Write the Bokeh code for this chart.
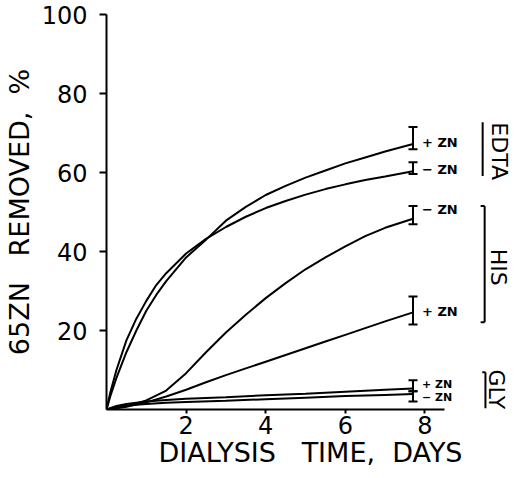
import math
from bokeh.plotting import figure
from bokeh.models import Range1d, FixedTicker, Whisker, TeeHead, ColumnDataSource
from bokeh.core.properties import value
from bokeh.embed import file_html
from bokeh.resources import INLINE

# ---- data ----
edta_minus_x = [0, 0.1, 0.25, 0.5, 0.75, 1.0, 1.25, 1.5, 2.0, 2.5, 3.0, 3.5, 4.0, 4.5, 5.0, 5.5, 6.0, 6.5, 7.0, 7.7]
edta_minus_y = [0, 4.5, 10, 17.5, 23, 27.5, 31.5, 34.5, 39.5, 43.2, 46.2, 48.8, 51, 52.8, 54.4, 55.8, 57.0, 58.1, 59.0, 60.3]

edta_plus_x = [0, 0.1, 0.25, 0.5, 0.75, 1.0, 1.25, 1.5, 2.0, 2.5, 3.0, 3.5, 4.0, 4.5, 5.0, 5.5, 6.0, 6.5, 7.0, 7.7]
edta_plus_y = [0, 3.5, 8, 14.5, 20, 25, 29, 32.5, 38.5, 43, 47.8, 51.3, 54.3, 56.6, 58.7, 60.5, 62.3, 63.8, 65.3, 67.2]

his_minus_x = [0, 0.5, 1.0, 1.5, 2.0, 2.5, 3.0, 3.5, 4.0, 4.5, 5.0, 5.5, 6.0, 6.5, 7.0, 7.7]
his_minus_y = [0, 0.8, 2.3, 4.8, 9.2, 14.5, 19.5, 24.0, 28.2, 32.0, 35.5, 38.5, 41.3, 43.9, 46.0, 48.3]

his_plus_x = [0, 0.5, 1.0, 1.5, 2.0, 2.5, 3.0, 3.5, 4.0, 4.5, 5.0, 5.5, 6.0, 6.5, 7.0, 7.7]
his_plus_y = [0, 0.7, 1.8, 3.3, 5.0, 6.9, 8.7, 10.4, 12.1, 13.8, 15.5, 17.2, 18.9, 20.6, 22.3, 24.6]

gly_plus_x = [0, 0.25, 0.5, 1.0, 1.5, 2.0, 3.0, 4.0, 5.0, 6.0, 7.0, 7.7]
gly_plus_y = [0, 0.9, 1.4, 2.0, 2.4, 2.7, 3.1, 3.6, 4.0, 4.5, 5.0, 5.3]

gly_minus_x = [0, 0.25, 0.5, 1.0, 1.5, 2.0, 3.0, 4.0, 5.0, 6.0, 7.0, 7.7]
gly_minus_y = [0, 0.6, 1.0, 1.4, 1.7, 1.9, 2.2, 2.6, 3.0, 3.4, 3.7, 3.9]

# error bars at the last time point
err_x = [7.7, 7.7, 7.7, 7.7, 7.7, 7.7]
err_lower = [65.9, 59.6, 46.9, 21.5, 4.6, 2.0]
err_upper = [71.5, 62.6, 51.5, 28.6, 7.4, 4.6]

# series labels next to the error bars
lab_x = [7.7, 7.7, 7.7, 7.7]
lab_y = [67.7, 60.8, 50.7, 24.8]
lab_text = ["+ ZN", "\u2212 ZN", "\u2212 ZN", "+ ZN"]
gly_lab_x = [7.7, 7.7]
gly_lab_y = [6.4, 3.0]
gly_lab_text = ["+ ZN", "\u2212 ZN"]

# group names and brackets
group_x = [9.88, 9.85, 9.8]
group_y = [65.4, 36.0, 5.1]
group_text = ["EDTA", "HIS", "GLY"]
br_x0 = [9.45, 9.5, 9.4, 9.4, 9.52, 9.44]
br_y0 = [59.1, 22.1, 51.5, 22.1, 0.3, 9.4]
br_x1 = [9.45, 9.5, 9.5, 9.5, 9.52, 9.52]
br_y1 = [72.7, 51.5, 51.5, 22.1, 9.4, 9.4]

x_ticks = [2, 4, 6, 8]
y_ticks = [20, 40, 60, 80, 100]

FONT = "DejaVu Sans"

p = figure(width=514, height=470, x_range=Range1d(0, 10.25), y_range=Range1d(0, 100),
           output_backend="svg", toolbar_location=None,
           min_border_left=104, min_border_right=0, min_border_top=14, min_border_bottom=60)
p.outline_line_color = None
p.grid.visible = False
p.background_fill_color = "white"
p.border_fill_color = "white"

for ax in (p.xaxis, p.yaxis):
    ax.axis_line_color = "black"
    ax.axis_line_width = 2
    ax.major_tick_line_color = "black"
    ax.major_tick_line_width = 2
    ax.minor_tick_line_color = None
    ax.major_tick_in = 0
    ax.major_label_text_font = FONT
    ax.major_label_text_font_size = "24px"
    ax.major_label_text_color = "black"
    ax.axis_label_text_font = FONT
    ax.axis_label_text_font_style = "normal"
    ax.axis_label_text_color = "black"

p.xaxis.ticker = FixedTicker(ticks=x_ticks)
p.xaxis.bounds = (0, 8.5)
p.xaxis.major_tick_out = 4
p.xaxis.major_label_standoff = 2
p.xaxis.axis_label = "DIALYSIS\u00a0\u00a0\u00a0TIME,\u00a0\u00a0DAYS"
p.xaxis.axis_label_text_font_size = "27px"
p.xaxis.axis_label_standoff = 0

p.yaxis.ticker = FixedTicker(ticks=y_ticks)
p.yaxis.bounds = (0, 100)
p.yaxis.major_tick_out = 7
p.yaxis.major_label_standoff = 12
p.yaxis.axis_label = "65ZN\u00a0\u00a0\u00a0REMOVED,\u00a0\u00a0%"
p.yaxis.axis_label_text_font_size = "27px"
p.yaxis.axis_label_standoff = 4

for xs, ys in [(edta_minus_x, edta_minus_y), (edta_plus_x, edta_plus_y),
               (his_minus_x, his_minus_y), (his_plus_x, his_plus_y),
               (gly_plus_x, gly_plus_y), (gly_minus_x, gly_minus_y)]:
    p.line(xs, ys, line_color="black", line_width=2)

err_src = ColumnDataSource(dict(x=err_x, lower=err_lower, upper=err_upper))
w = Whisker(source=err_src, base="x", lower="lower", upper="upper", dimension="height",
            line_color="black", line_width=2,
            upper_head=TeeHead(size=9, line_width=2, line_color="black"),
            lower_head=TeeHead(size=9, line_width=2, line_color="black"))
p.add_layout(w)

p.text(x=lab_x, y=lab_y, text=lab_text, x_offset=9, text_font=value(FONT),
       text_font_size="13px", text_font_style="bold", text_baseline="middle",
       text_align="left", text_color="black")
p.text(x=gly_lab_x, y=gly_lab_y, text=gly_lab_text, x_offset=9, text_font=value(FONT),
       text_font_size="11px", text_font_style="bold", text_baseline="middle",
       text_align="left", text_color="black")

p.segment(x0=br_x0, y0=br_y0, x1=br_x1, y1=br_y1, line_color="black", line_width=2)

p.text(x=group_x, y=group_y, text=group_text, angle=-math.pi / 2, text_font=value(FONT),
       text_font_size="22px", text_baseline="middle", text_align="center", text_color="black")

open("out.html", "w").write(file_html(p, INLINE))
